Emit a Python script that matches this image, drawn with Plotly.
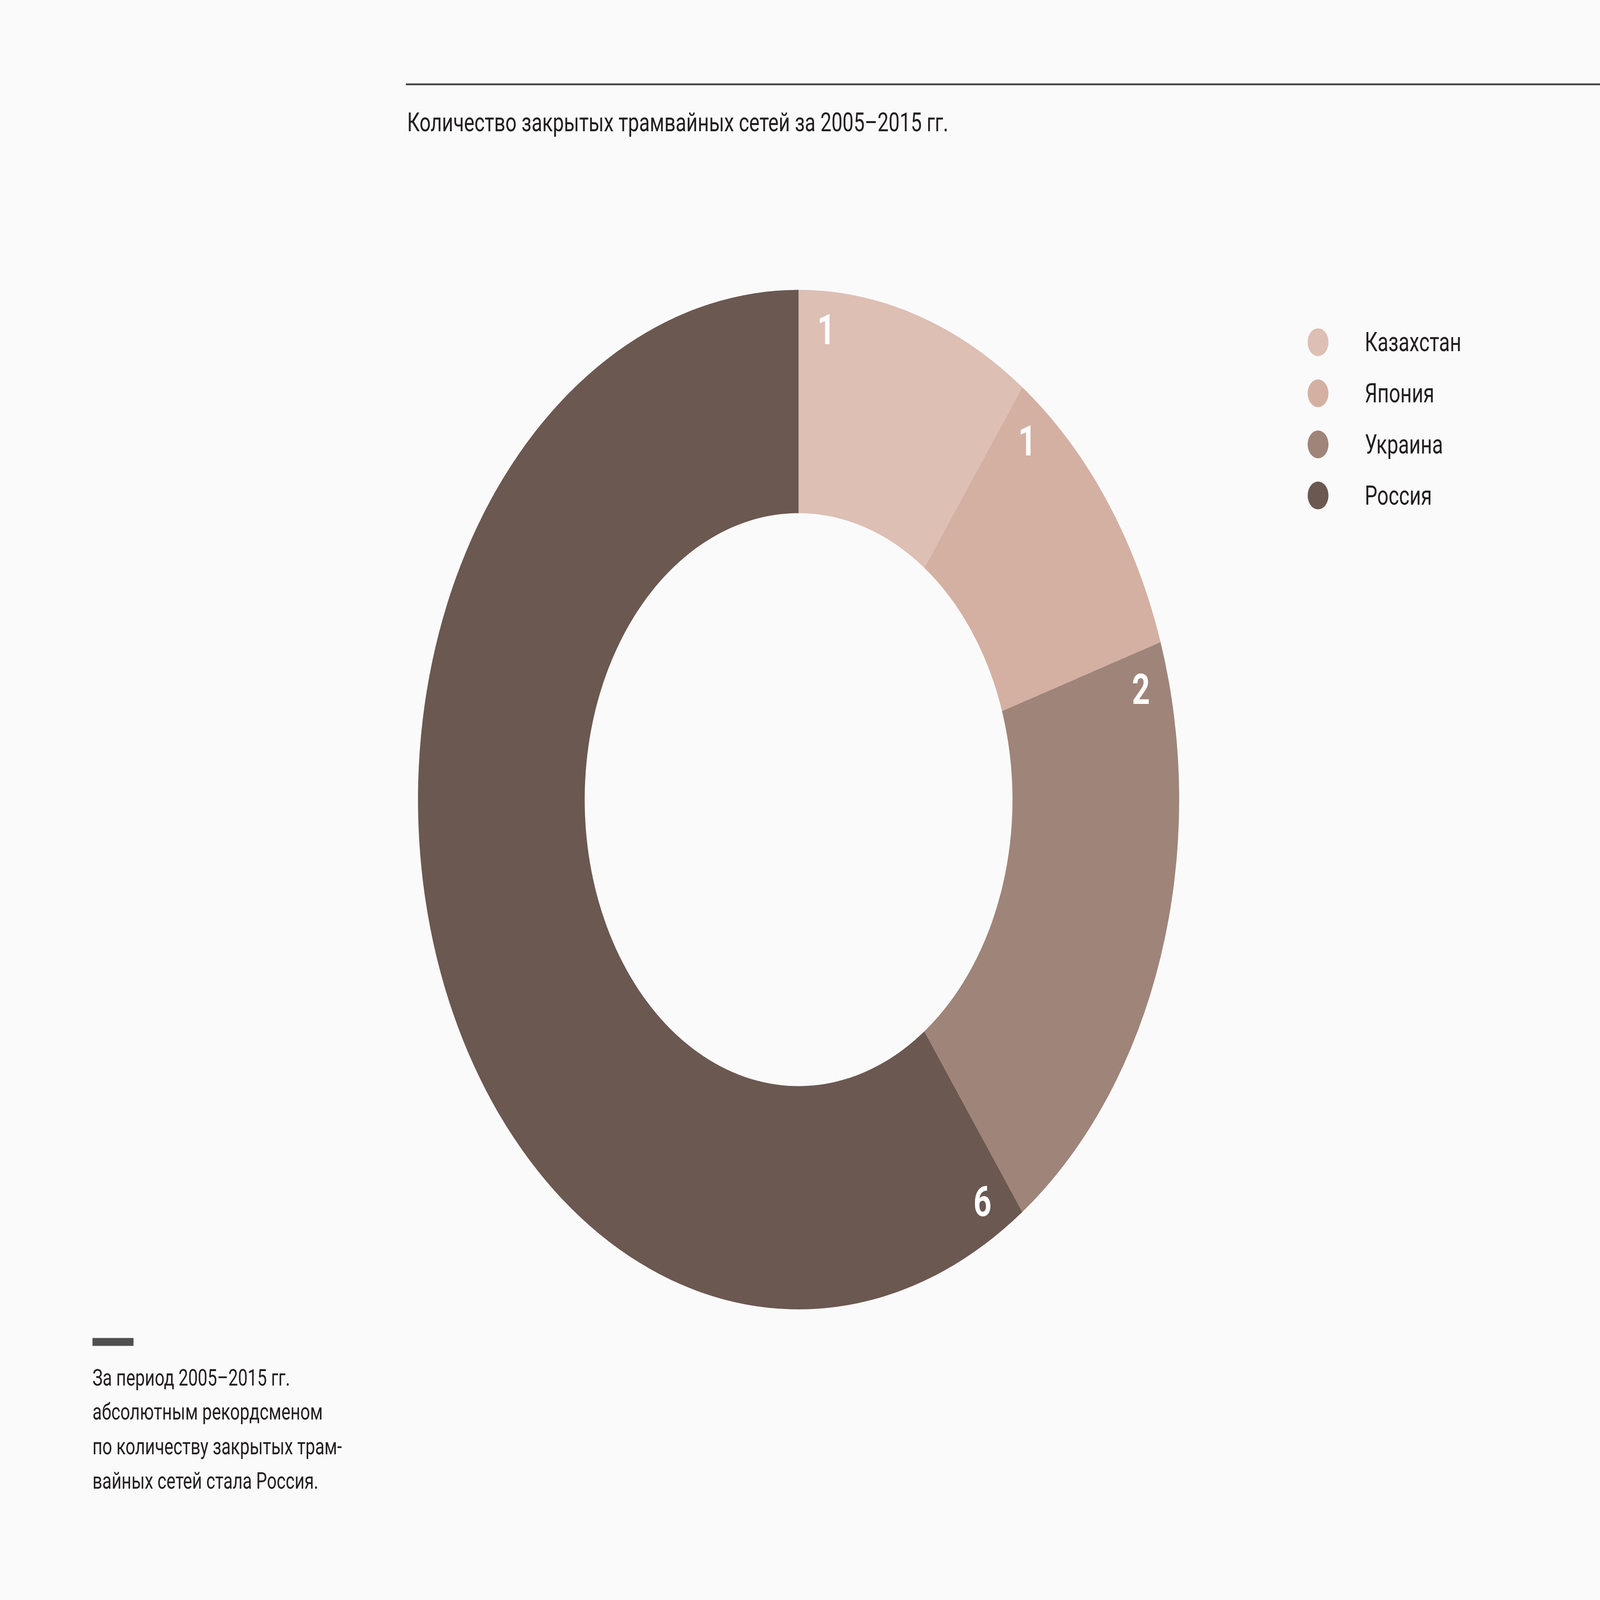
import numpy as np
import plotly.graph_objects as go

# data
countries = ["Казахстан", "Япония", "Украина", "Россия"]
closed_networks = [1, 1, 2, 6]
colors = ["#ddbfb4", "#d4b0a2", "#9f8479", "#6b5851"]

title_text = "Количество закрытых трамвайных сетей за 2005–2015 гг."
note_lines = [
    "За период 2005–2015 гг.",
    "абсолютным рекордсменом",
    "по количеству закрытых трам-",
    "вайных сетей стала Россия.",
]

W, H = 5692, 4250
FONT = "Roboto, 'Noto Sans', sans-serif"
BG = "#fafafa"
INK = "#231f20"

# donut geometry (pixels)
cx, cy, R = 2841, 2124, 1354
hole = 0.562


def px(x):
    return x / W


def py(y):
    return 1 - y / H


fig = go.Figure()

fig.add_trace(go.Pie(
    labels=countries,
    values=closed_networks,
    marker=dict(colors=colors, line=dict(width=0)),
    hole=hole,
    sort=False,
    direction="clockwise",
    rotation=0,
    textinfo="none",
    hoverinfo="skip",
    showlegend=False,
    domain=dict(x=[px(cx - R), px(cx + R)], y=[py(cy + R), py(cy - R)]),
))

shapes = []
annotations = []

# value labels just past the start edge of each slice
total = sum(closed_networks)
starts = np.cumsum(closed_networks) - np.array(closed_networks)
for v, s in zip(closed_networks, starts):
    ang = np.radians(360 * s / total + 4.5)
    r = 0.925 * R
    annotations.append(dict(
        x=px(cx + r * np.sin(ang)), y=py(cy - r * np.cos(ang)),
        xref="paper", yref="paper",
        text=f"<b>{v}</b>", showarrow=False,
        font=dict(family=FONT, size=112, color="white"),
        xanchor="center", yanchor="middle",
    ))

# top rule + title
shapes.append(dict(
    type="line", xref="paper", yref="paper",
    x0=px(1444), x1=1, y0=py(224), y1=py(224),
    line=dict(color="#444444", width=5),
))
annotations.append(dict(
    x=px(1446), y=py(325), xref="paper", yref="paper",
    text=title_text, showarrow=False,
    font=dict(family=FONT, size=70, color=INK),
    xanchor="left", yanchor="middle",
))

# legend drawn by hand (big round markers)
for i, (name, col) in enumerate(zip(countries, colors)):
    yc = 909 + i * 135.7
    shapes.append(dict(
        type="circle", xref="paper", yref="paper",
        x0=px(4689 - 37), x1=px(4689 + 37),
        y0=py(yc + 37), y1=py(yc - 37),
        fillcolor=col, line=dict(width=0),
    ))
    annotations.append(dict(
        x=px(4853), y=py(yc), xref="paper", yref="paper",
        text=name, showarrow=False,
        font=dict(family=FONT, size=71, color=INK),
        xanchor="left", yanchor="middle",
    ))

# footnote
shapes.append(dict(
    type="rect", xref="paper", yref="paper",
    x0=px(329), x1=px(475), y0=py(3575), y1=py(3554),
    fillcolor="#505050", line=dict(width=0),
))
for i, line in enumerate(note_lines):
    annotations.append(dict(
        x=px(327), y=py(3659 + i * 91.3), xref="paper", yref="paper",
        text=line, showarrow=False,
        font=dict(family=FONT, size=61, color=INK),
        xanchor="left", yanchor="middle",
    ))

fig.update_layout(
    width=W, height=H,
    margin=dict(l=0, r=0, t=0, b=0),
    paper_bgcolor=BG, plot_bgcolor=BG,
    showlegend=False,
    shapes=shapes,
    annotations=annotations,
    font=dict(family=FONT),
)

# fit the fixed-size figure to whatever window it is opened in
fit_js = """
var gd = document.getElementById('{plot_id}');
document.documentElement.style.margin = '0';
document.documentElement.style.overflow = 'hidden';
document.body.style.margin = '0';
document.body.style.overflow = 'hidden';
document.body.style.background = '#fafafa';
var sx = window.innerWidth / 5692, sy = window.innerHeight / 4250;
gd.style.transformOrigin = '0 0';
gd.style.transform = 'scale(' + sx + ',' + sy + ')';
"""

fig.write_html("out.html", post_script=fit_js, config={"displayModeBar": False})
